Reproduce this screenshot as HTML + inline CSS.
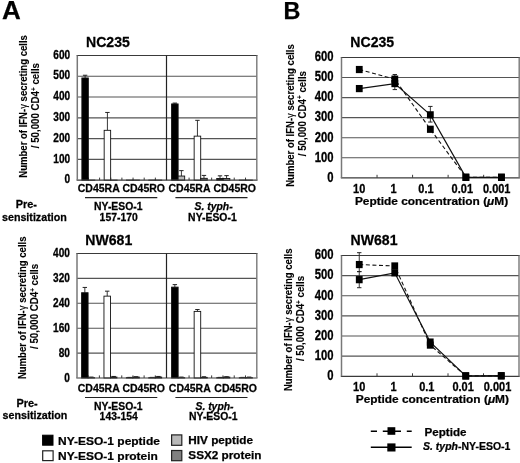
<!DOCTYPE html><html><head><meta charset="utf-8"><style>html,body{margin:0;padding:0;background:#fff;}svg{display:block;filter:grayscale(1)}text{font-family:"Liberation Sans",sans-serif;font-weight:bold;fill:#000;stroke:#000;stroke-width:0.25px}</style></head><body>
<svg width="520" height="463" viewBox="0 0 520 463">
<rect width="520" height="463" fill="#fff"/>
<text transform="translate(2.10,18.80) scale(1.0,1.0)" font-size="26">A</text>
<text transform="translate(283.40,18.50) scale(1.0,1.0)" font-size="23.4">B</text>
<line x1="77.3" y1="159.42" x2="256.8" y2="159.42" stroke="#555555" stroke-width="1.1"/>
<line x1="77.3" y1="138.63" x2="256.8" y2="138.63" stroke="#555555" stroke-width="1.1"/>
<line x1="77.3" y1="117.85" x2="256.8" y2="117.85" stroke="#555555" stroke-width="1.1"/>
<line x1="77.3" y1="97.07" x2="256.8" y2="97.07" stroke="#555555" stroke-width="1.1"/>
<line x1="77.3" y1="76.28" x2="256.8" y2="76.28" stroke="#555555" stroke-width="1.1"/>
<line x1="88.45" y1="177.60" x2="88.45" y2="180.2" stroke="#3a3a3a" stroke-width="1"/>
<line x1="99.60" y1="177.60" x2="99.60" y2="180.2" stroke="#3a3a3a" stroke-width="1"/>
<line x1="110.75" y1="177.60" x2="110.75" y2="180.2" stroke="#3a3a3a" stroke-width="1"/>
<line x1="121.90" y1="177.60" x2="121.90" y2="180.2" stroke="#3a3a3a" stroke-width="1"/>
<line x1="133.05" y1="177.60" x2="133.05" y2="180.2" stroke="#3a3a3a" stroke-width="1"/>
<line x1="144.20" y1="177.60" x2="144.20" y2="180.2" stroke="#3a3a3a" stroke-width="1"/>
<line x1="155.35" y1="177.60" x2="155.35" y2="180.2" stroke="#3a3a3a" stroke-width="1"/>
<line x1="177.79" y1="177.60" x2="177.79" y2="180.2" stroke="#3a3a3a" stroke-width="1"/>
<line x1="189.07" y1="177.60" x2="189.07" y2="180.2" stroke="#3a3a3a" stroke-width="1"/>
<line x1="200.36" y1="177.60" x2="200.36" y2="180.2" stroke="#3a3a3a" stroke-width="1"/>
<line x1="211.65" y1="177.60" x2="211.65" y2="180.2" stroke="#3a3a3a" stroke-width="1"/>
<line x1="222.94" y1="177.60" x2="222.94" y2="180.2" stroke="#3a3a3a" stroke-width="1"/>
<line x1="234.23" y1="177.60" x2="234.23" y2="180.2" stroke="#3a3a3a" stroke-width="1"/>
<line x1="245.51" y1="177.60" x2="245.51" y2="180.2" stroke="#3a3a3a" stroke-width="1"/>
<line x1="85.11" y1="75.24" x2="85.11" y2="77.95" stroke="#222" stroke-width="0.9"/>
<line x1="82.91" y1="75.24" x2="87.31" y2="75.24" stroke="#222" stroke-width="1"/>
<rect x="81.87" y="77.95" width="6.47" height="102.25" fill="#000" stroke="#111" stroke-width="0.9"/>
<rect x="88.34" y="180.10" width="6.47" height="0.10" fill="#b9b9b9" stroke="#111" stroke-width="0.9"/>
<line x1="107.41" y1="112.45" x2="107.41" y2="130.32" stroke="#222" stroke-width="0.9"/>
<line x1="105.20" y1="112.45" x2="109.61" y2="112.45" stroke="#222" stroke-width="1"/>
<rect x="104.17" y="130.32" width="6.47" height="49.88" fill="#fff" stroke="#111" stroke-width="0.9"/>
<rect x="110.64" y="180.10" width="6.47" height="0.10" fill="#808080" stroke="#111" stroke-width="0.9"/>
<rect x="126.47" y="180.10" width="6.47" height="0.10" fill="#000" stroke="#111" stroke-width="0.9"/>
<rect x="132.94" y="180.10" width="6.47" height="0.10" fill="#b9b9b9" stroke="#111" stroke-width="0.9"/>
<rect x="148.77" y="180.10" width="6.47" height="0.10" fill="#fff" stroke="#111" stroke-width="0.9"/>
<rect x="155.24" y="180.10" width="6.47" height="0.10" fill="#808080" stroke="#111" stroke-width="0.9"/>
<line x1="174.85" y1="103.09" x2="174.85" y2="103.93" stroke="#222" stroke-width="0.9"/>
<line x1="172.65" y1="103.09" x2="177.05" y2="103.09" stroke="#222" stroke-width="1"/>
<rect x="171.58" y="103.93" width="6.55" height="76.27" fill="#000" stroke="#111" stroke-width="0.9"/>
<line x1="181.40" y1="170.64" x2="181.40" y2="176.04" stroke="#222" stroke-width="0.9"/>
<line x1="179.20" y1="170.64" x2="183.60" y2="170.64" stroke="#222" stroke-width="1"/>
<rect x="178.13" y="176.04" width="6.55" height="4.16" fill="#b9b9b9" stroke="#111" stroke-width="0.9"/>
<line x1="197.43" y1="120.34" x2="197.43" y2="136.14" stroke="#222" stroke-width="0.9"/>
<line x1="195.23" y1="120.34" x2="199.63" y2="120.34" stroke="#222" stroke-width="1"/>
<rect x="194.15" y="136.14" width="6.55" height="44.06" fill="#fff" stroke="#111" stroke-width="0.9"/>
<line x1="203.97" y1="175.42" x2="203.97" y2="178.33" stroke="#222" stroke-width="0.9"/>
<line x1="201.77" y1="175.42" x2="206.17" y2="175.42" stroke="#222" stroke-width="1"/>
<rect x="200.70" y="178.33" width="6.55" height="1.87" fill="#808080" stroke="#111" stroke-width="0.9"/>
<line x1="220.00" y1="175.84" x2="220.00" y2="178.54" stroke="#222" stroke-width="0.9"/>
<line x1="217.80" y1="175.84" x2="222.20" y2="175.84" stroke="#222" stroke-width="1"/>
<rect x="216.73" y="178.54" width="6.55" height="1.66" fill="#000" stroke="#111" stroke-width="0.9"/>
<line x1="226.55" y1="175.63" x2="226.55" y2="178.54" stroke="#222" stroke-width="0.9"/>
<line x1="224.35" y1="175.63" x2="228.75" y2="175.63" stroke="#222" stroke-width="1"/>
<rect x="223.28" y="178.54" width="6.55" height="1.66" fill="#b9b9b9" stroke="#111" stroke-width="0.9"/>
<rect x="239.30" y="180.10" width="6.55" height="0.10" fill="#fff" stroke="#111" stroke-width="0.9"/>
<rect x="245.85" y="180.10" width="6.55" height="0.10" fill="#808080" stroke="#111" stroke-width="0.9"/>
<line x1="76.6" y1="180.2" x2="257.5" y2="180.2" stroke="#3a3a3a" stroke-width="1.2"/>
<line x1="76.6" y1="55.5" x2="257.5" y2="55.5" stroke="#3a3a3a" stroke-width="1.2"/>
<line x1="77.3" y1="55.5" x2="77.3" y2="180.2" stroke="#787878" stroke-width="1.5"/>
<line x1="256.8" y1="55.5" x2="256.8" y2="180.2" stroke="#787878" stroke-width="1.4"/>
<line x1="166.5" y1="55.5" x2="166.5" y2="180.2" stroke="#222" stroke-width="1.2"/>
<text transform="translate(70.20,183.40) scale(1.0,1.18)" font-size="10.1" text-anchor="end">0</text>
<text transform="translate(70.20,162.62) scale(1.0,1.18)" font-size="10.1" text-anchor="end">100</text>
<text transform="translate(70.20,141.83) scale(1.0,1.18)" font-size="10.1" text-anchor="end">200</text>
<text transform="translate(70.20,121.05) scale(1.0,1.18)" font-size="10.1" text-anchor="end">300</text>
<text transform="translate(70.20,100.27) scale(1.0,1.18)" font-size="10.1" text-anchor="end">400</text>
<text transform="translate(70.20,79.48) scale(1.0,1.18)" font-size="10.1" text-anchor="end">500</text>
<text transform="translate(70.20,58.70) scale(1.0,1.18)" font-size="10.1" text-anchor="end">600</text>
<line x1="77.0" y1="353.10" x2="256.8" y2="353.10" stroke="#555555" stroke-width="1.1"/>
<line x1="77.0" y1="328.20" x2="256.8" y2="328.20" stroke="#555555" stroke-width="1.1"/>
<line x1="77.0" y1="303.30" x2="256.8" y2="303.30" stroke="#555555" stroke-width="1.1"/>
<line x1="77.0" y1="278.40" x2="256.8" y2="278.40" stroke="#555555" stroke-width="1.1"/>
<line x1="88.19" y1="375.40" x2="88.19" y2="378.0" stroke="#3a3a3a" stroke-width="1"/>
<line x1="99.38" y1="375.40" x2="99.38" y2="378.0" stroke="#3a3a3a" stroke-width="1"/>
<line x1="110.56" y1="375.40" x2="110.56" y2="378.0" stroke="#3a3a3a" stroke-width="1"/>
<line x1="121.75" y1="375.40" x2="121.75" y2="378.0" stroke="#3a3a3a" stroke-width="1"/>
<line x1="132.94" y1="375.40" x2="132.94" y2="378.0" stroke="#3a3a3a" stroke-width="1"/>
<line x1="144.12" y1="375.40" x2="144.12" y2="378.0" stroke="#3a3a3a" stroke-width="1"/>
<line x1="155.31" y1="375.40" x2="155.31" y2="378.0" stroke="#3a3a3a" stroke-width="1"/>
<line x1="177.79" y1="375.40" x2="177.79" y2="378.0" stroke="#3a3a3a" stroke-width="1"/>
<line x1="189.07" y1="375.40" x2="189.07" y2="378.0" stroke="#3a3a3a" stroke-width="1"/>
<line x1="200.36" y1="375.40" x2="200.36" y2="378.0" stroke="#3a3a3a" stroke-width="1"/>
<line x1="211.65" y1="375.40" x2="211.65" y2="378.0" stroke="#3a3a3a" stroke-width="1"/>
<line x1="222.94" y1="375.40" x2="222.94" y2="378.0" stroke="#3a3a3a" stroke-width="1"/>
<line x1="234.23" y1="375.40" x2="234.23" y2="378.0" stroke="#3a3a3a" stroke-width="1"/>
<line x1="245.51" y1="375.40" x2="245.51" y2="378.0" stroke="#3a3a3a" stroke-width="1"/>
<line x1="84.83" y1="287.43" x2="84.83" y2="292.72" stroke="#222" stroke-width="0.9"/>
<line x1="82.63" y1="287.43" x2="87.03" y2="287.43" stroke="#222" stroke-width="1"/>
<rect x="81.59" y="292.72" width="6.49" height="85.28" fill="#000" stroke="#111" stroke-width="0.9"/>
<line x1="91.32" y1="377.07" x2="91.32" y2="377.69" stroke="#222" stroke-width="0.9"/>
<line x1="89.12" y1="377.07" x2="93.52" y2="377.07" stroke="#222" stroke-width="1"/>
<rect x="88.08" y="377.69" width="6.49" height="0.31" fill="#b9b9b9" stroke="#111" stroke-width="0.9"/>
<line x1="107.21" y1="291.16" x2="107.21" y2="296.14" stroke="#222" stroke-width="0.9"/>
<line x1="105.01" y1="291.16" x2="109.41" y2="291.16" stroke="#222" stroke-width="1"/>
<rect x="103.96" y="296.14" width="6.49" height="81.86" fill="#fff" stroke="#111" stroke-width="0.9"/>
<line x1="113.70" y1="376.44" x2="113.70" y2="377.07" stroke="#222" stroke-width="0.9"/>
<line x1="111.50" y1="376.44" x2="115.90" y2="376.44" stroke="#222" stroke-width="1"/>
<rect x="110.45" y="377.07" width="6.49" height="0.93" fill="#808080" stroke="#111" stroke-width="0.9"/>
<line x1="129.58" y1="377.38" x2="129.58" y2="377.69" stroke="#222" stroke-width="0.9"/>
<line x1="127.38" y1="377.38" x2="131.78" y2="377.38" stroke="#222" stroke-width="1"/>
<rect x="126.34" y="377.69" width="6.49" height="0.31" fill="#000" stroke="#111" stroke-width="0.9"/>
<line x1="136.07" y1="376.75" x2="136.07" y2="377.07" stroke="#222" stroke-width="0.9"/>
<line x1="133.87" y1="376.75" x2="138.27" y2="376.75" stroke="#222" stroke-width="1"/>
<rect x="132.83" y="377.07" width="6.49" height="0.93" fill="#b9b9b9" stroke="#111" stroke-width="0.9"/>
<line x1="151.96" y1="377.38" x2="151.96" y2="377.69" stroke="#222" stroke-width="0.9"/>
<line x1="149.76" y1="377.38" x2="154.16" y2="377.38" stroke="#222" stroke-width="1"/>
<rect x="148.71" y="377.69" width="6.49" height="0.31" fill="#fff" stroke="#111" stroke-width="0.9"/>
<line x1="158.44" y1="376.44" x2="158.44" y2="377.07" stroke="#222" stroke-width="0.9"/>
<line x1="156.25" y1="376.44" x2="160.64" y2="376.44" stroke="#222" stroke-width="1"/>
<rect x="155.20" y="377.07" width="6.49" height="0.93" fill="#808080" stroke="#111" stroke-width="0.9"/>
<line x1="174.85" y1="284.62" x2="174.85" y2="287.12" stroke="#222" stroke-width="0.9"/>
<line x1="172.65" y1="284.62" x2="177.05" y2="284.62" stroke="#222" stroke-width="1"/>
<rect x="171.58" y="287.12" width="6.55" height="90.88" fill="#000" stroke="#111" stroke-width="0.9"/>
<line x1="181.40" y1="377.07" x2="181.40" y2="377.69" stroke="#222" stroke-width="0.9"/>
<line x1="179.20" y1="377.07" x2="183.60" y2="377.07" stroke="#222" stroke-width="1"/>
<rect x="178.13" y="377.69" width="6.55" height="0.31" fill="#b9b9b9" stroke="#111" stroke-width="0.9"/>
<line x1="197.43" y1="309.52" x2="197.43" y2="311.39" stroke="#222" stroke-width="0.9"/>
<line x1="195.23" y1="309.52" x2="199.63" y2="309.52" stroke="#222" stroke-width="1"/>
<rect x="194.15" y="311.39" width="6.55" height="66.61" fill="#fff" stroke="#111" stroke-width="0.9"/>
<line x1="203.97" y1="376.75" x2="203.97" y2="377.38" stroke="#222" stroke-width="0.9"/>
<line x1="201.77" y1="376.75" x2="206.17" y2="376.75" stroke="#222" stroke-width="1"/>
<rect x="200.70" y="377.38" width="6.55" height="0.62" fill="#808080" stroke="#111" stroke-width="0.9"/>
<line x1="220.00" y1="377.38" x2="220.00" y2="377.69" stroke="#222" stroke-width="0.9"/>
<line x1="217.80" y1="377.38" x2="222.20" y2="377.38" stroke="#222" stroke-width="1"/>
<rect x="216.73" y="377.69" width="6.55" height="0.31" fill="#000" stroke="#111" stroke-width="0.9"/>
<line x1="226.55" y1="376.75" x2="226.55" y2="377.07" stroke="#222" stroke-width="0.9"/>
<line x1="224.35" y1="376.75" x2="228.75" y2="376.75" stroke="#222" stroke-width="1"/>
<rect x="223.28" y="377.07" width="6.55" height="0.93" fill="#b9b9b9" stroke="#111" stroke-width="0.9"/>
<line x1="242.58" y1="377.38" x2="242.58" y2="377.69" stroke="#222" stroke-width="0.9"/>
<line x1="240.38" y1="377.38" x2="244.78" y2="377.38" stroke="#222" stroke-width="1"/>
<rect x="239.30" y="377.69" width="6.55" height="0.31" fill="#fff" stroke="#111" stroke-width="0.9"/>
<line x1="249.12" y1="377.07" x2="249.12" y2="377.69" stroke="#222" stroke-width="0.9"/>
<line x1="246.92" y1="377.07" x2="251.32" y2="377.07" stroke="#222" stroke-width="1"/>
<rect x="245.85" y="377.69" width="6.55" height="0.31" fill="#808080" stroke="#111" stroke-width="0.9"/>
<line x1="76.3" y1="378.0" x2="257.5" y2="378.0" stroke="#3a3a3a" stroke-width="1.2"/>
<line x1="76.3" y1="253.5" x2="257.5" y2="253.5" stroke="#3a3a3a" stroke-width="1.2"/>
<line x1="77.0" y1="253.5" x2="77.0" y2="378.0" stroke="#787878" stroke-width="1.5"/>
<line x1="256.8" y1="253.5" x2="256.8" y2="378.0" stroke="#787878" stroke-width="1.4"/>
<line x1="166.5" y1="253.5" x2="166.5" y2="378.0" stroke="#222" stroke-width="1.2"/>
<text transform="translate(69.90,381.50) scale(1.0,1.18)" font-size="10.1" text-anchor="end">0</text>
<text transform="translate(69.90,356.60) scale(1.0,1.18)" font-size="10.1" text-anchor="end">80</text>
<text transform="translate(69.90,331.70) scale(1.0,1.18)" font-size="10.1" text-anchor="end">160</text>
<text transform="translate(69.90,306.80) scale(1.0,1.18)" font-size="10.1" text-anchor="end">240</text>
<text transform="translate(69.90,281.90) scale(1.0,1.18)" font-size="10.1" text-anchor="end">320</text>
<text transform="translate(69.90,257.00) scale(1.0,1.18)" font-size="10.1" text-anchor="end">400</text>
<text transform="translate(86.00,46.80) scale(1.0,1.06)" font-size="14.1">NC235</text>
<text transform="translate(85.30,244.80) scale(1.0,1.06)" font-size="14.1">NW681</text>
<text transform="translate(350.30,46.80) scale(1.0,1.06)" font-size="14.1">NC235</text>
<text transform="translate(350.50,245.00) scale(1.0,1.06)" font-size="14.1">NW681</text>
<text transform="translate(27.3,106.4) rotate(-90) scale(1,1.06)" text-anchor="middle" font-size="9.55" style="stroke-width:0.12px">Number of IFN-<tspan font-weight="normal">γ</tspan> secreting cells</text>
<text transform="translate(39.2,105.6) rotate(-90) scale(1,1.06)" text-anchor="middle" font-size="9.7" style="stroke-width:0.12px">/ 50,000 CD4<tspan font-size="6.5" dy="-3">+</tspan><tspan dy="3"> cells</tspan></text>
<text transform="translate(26.4,307.8) rotate(-90) scale(1,1.06)" text-anchor="middle" font-size="9.55" style="stroke-width:0.12px">Number of IFN-<tspan font-weight="normal">γ</tspan> secreting cells</text>
<text transform="translate(37.9,306.4) rotate(-90) scale(1,1.06)" text-anchor="middle" font-size="9.7" style="stroke-width:0.12px">/ 50,000 CD4<tspan font-size="6.5" dy="-3">+</tspan><tspan dy="3"> cells</tspan></text>
<text transform="translate(293.7,115.5) rotate(-90) scale(1,1.06)" text-anchor="middle" font-size="9.55" style="stroke-width:0.12px">Number of IFN-<tspan font-weight="normal">γ</tspan> secreting cells</text>
<text transform="translate(305.5,113.6) rotate(-90) scale(1,1.06)" text-anchor="middle" font-size="9.7" style="stroke-width:0.12px">/ 50,000 CD4<tspan font-size="6.5" dy="-3">+</tspan><tspan dy="3"> cells</tspan></text>
<text transform="translate(292.0,319.8) rotate(-90) scale(1,1.06)" text-anchor="middle" font-size="9.55" style="stroke-width:0.12px">Number of IFN-<tspan font-weight="normal">γ</tspan> secreting cells</text>
<text transform="translate(304.1,318.5) rotate(-90) scale(1,1.06)" text-anchor="middle" font-size="9.7" style="stroke-width:0.12px">/ 50,000 CD4<tspan font-size="6.5" dy="-3">+</tspan><tspan dy="3"> cells</tspan></text>
<text transform="translate(98.75,192.00) scale(1.0,1.06)" font-size="10.5" text-anchor="middle">CD45RA</text>
<text transform="translate(143.75,192.00) scale(1.0,1.06)" font-size="10.5" text-anchor="middle">CD45RO</text>
<text transform="translate(189.50,192.00) scale(1.0,1.06)" font-size="10.5" text-anchor="middle">CD45RA</text>
<text transform="translate(234.70,192.00) scale(1.0,1.06)" font-size="10.5" text-anchor="middle">CD45RO</text>
<line x1="85" y1="197.7" x2="157.3" y2="197.7" stroke="#222" stroke-width="1.2"/>
<line x1="175.4" y1="197.7" x2="247.5" y2="197.7" stroke="#222" stroke-width="1.2"/>
<text transform="translate(118.30,210.40) scale(1.0,1.06)" font-size="10.4" text-anchor="middle">NY-ESO-1</text>
<text transform="translate(118.70,220.50) scale(1.0,1.04)" font-size="10.4" text-anchor="middle">157-170</text>
<text transform="translate(213.60,210.40) scale(1.0,1.0)" font-size="10.4" text-anchor="middle" font-style="italic">S. typh-</text>
<text transform="translate(212.40,220.50) scale(1.0,1.04)" font-size="10.4" text-anchor="middle">NY-ESO-1</text>
<text transform="translate(98.75,391.80) scale(1.0,1.06)" font-size="10.5" text-anchor="middle">CD45RA</text>
<text transform="translate(143.75,391.80) scale(1.0,1.06)" font-size="10.5" text-anchor="middle">CD45RO</text>
<text transform="translate(189.77,391.80) scale(1.0,1.06)" font-size="10.5" text-anchor="middle">CD45RA</text>
<text transform="translate(235.60,391.80) scale(1.0,1.06)" font-size="10.5" text-anchor="middle">CD45RO</text>
<line x1="85" y1="397.5" x2="157.3" y2="397.5" stroke="#222" stroke-width="1.2"/>
<line x1="175.4" y1="397.5" x2="247.5" y2="397.5" stroke="#222" stroke-width="1.2"/>
<text transform="translate(118.30,409.60) scale(1.0,1.06)" font-size="10.4" text-anchor="middle">NY-ESO-1</text>
<text transform="translate(118.70,419.90) scale(1.0,1.04)" font-size="10.4" text-anchor="middle">143-154</text>
<text transform="translate(214.50,409.60) scale(1.0,1.0)" font-size="10.4" text-anchor="middle" font-style="italic">S. typh-</text>
<text transform="translate(213.30,419.90) scale(1.0,1.04)" font-size="10.4" text-anchor="middle">NY-ESO-1</text>
<text transform="translate(15.70,207.70) scale(1.0,1.06)" font-size="10.9">Pre-</text>
<text transform="translate(2.00,220.60) scale(1.0,1.06)" font-size="10.7">sensitization</text>
<text transform="translate(16.50,406.50) scale(1.0,1.06)" font-size="10.9">Pre-</text>
<text transform="translate(2.60,419.10) scale(1.0,1.06)" font-size="10.7">sensitization</text>
<rect x="42.6" y="435.2" width="10.4" height="10" fill="#000" stroke="#000" stroke-width="1"/>
<rect x="42.7" y="450.8" width="10.4" height="9.8" fill="#fff" stroke="#222" stroke-width="1.2"/>
<rect x="171.6" y="434.9" width="10.2" height="10.4" fill="#b9b9b9" stroke="#222" stroke-width="1.2"/>
<rect x="171.6" y="450.5" width="10.2" height="10.2" fill="#808080" stroke="#222" stroke-width="1.2"/>
<text transform="translate(58.00,445.00) scale(1.0,0.97)" font-size="12.0">NY-ESO-1 peptide</text>
<text transform="translate(58.00,460.40) scale(1.0,0.97)" font-size="12.0">NY-ESO-1 protein</text>
<text transform="translate(188.30,443.70) scale(1.0,1.0)" font-size="11.75">HIV peptide</text>
<text transform="translate(188.30,459.00) scale(1.0,1.0)" font-size="11.75">SSX2 protein</text>
<line x1="341.5" y1="157.75" x2="519.2" y2="157.75" stroke="#555555" stroke-width="1.1"/>
<line x1="341.5" y1="137.70" x2="519.2" y2="137.70" stroke="#555555" stroke-width="1.1"/>
<line x1="341.5" y1="117.65" x2="519.2" y2="117.65" stroke="#555555" stroke-width="1.1"/>
<line x1="341.5" y1="97.60" x2="519.2" y2="97.60" stroke="#555555" stroke-width="1.1"/>
<line x1="341.5" y1="77.55" x2="519.2" y2="77.55" stroke="#555555" stroke-width="1.1"/>
<line x1="377.04" y1="174.80" x2="377.04" y2="177.8" stroke="#3a3a3a" stroke-width="1"/>
<line x1="412.58" y1="174.80" x2="412.58" y2="177.8" stroke="#3a3a3a" stroke-width="1"/>
<line x1="448.12" y1="174.80" x2="448.12" y2="177.8" stroke="#3a3a3a" stroke-width="1"/>
<line x1="483.66" y1="174.80" x2="483.66" y2="177.8" stroke="#3a3a3a" stroke-width="1"/>
<line x1="340.8" y1="177.8" x2="519.9000000000001" y2="177.8" stroke="#3a3a3a" stroke-width="1.2"/>
<line x1="340.8" y1="57.5" x2="519.9000000000001" y2="57.5" stroke="#3a3a3a" stroke-width="1.2"/>
<line x1="341.5" y1="57.5" x2="341.5" y2="177.8" stroke="#787878" stroke-width="1.5"/>
<line x1="519.2" y1="57.5" x2="519.2" y2="177.8" stroke="#787878" stroke-width="1.4"/>
<line x1="394.81" y1="74.54" x2="394.81" y2="81.56" stroke="#222" stroke-width="0.9"/>
<line x1="392.61" y1="74.54" x2="397.01" y2="74.54" stroke="#222" stroke-width="1"/>
<line x1="392.61" y1="81.56" x2="397.01" y2="81.56" stroke="#222" stroke-width="1"/>
<line x1="394.81" y1="81.56" x2="394.81" y2="89.58" stroke="#222" stroke-width="0.9"/>
<line x1="392.61" y1="81.56" x2="397.01" y2="81.56" stroke="#222" stroke-width="1"/>
<line x1="392.61" y1="89.58" x2="397.01" y2="89.58" stroke="#222" stroke-width="1"/>
<line x1="430.35" y1="106.42" x2="430.35" y2="122.06" stroke="#222" stroke-width="0.9"/>
<line x1="428.15" y1="106.42" x2="432.55" y2="106.42" stroke="#222" stroke-width="1"/>
<line x1="428.15" y1="122.06" x2="432.55" y2="122.06" stroke="#222" stroke-width="1"/>
<polyline points="359.27,69.53 394.81,79.15 430.35,129.28 465.89,177.30 501.43,177.30" fill="none" stroke="#111" stroke-width="1.1" stroke-dasharray="4 2.6"/>
<polyline points="359.27,88.58 394.81,83.57 430.35,114.84 465.89,177.30 501.43,177.30" fill="none" stroke="#111" stroke-width="1.2"/>
<rect x="355.87" y="65.93" width="6.8" height="7.2" fill="#000"/>
<rect x="391.41" y="75.55" width="6.8" height="7.2" fill="#000"/>
<rect x="426.95" y="125.68" width="6.8" height="7.2" fill="#000"/>
<rect x="462.49" y="173.70" width="6.8" height="7.2" fill="#000"/>
<rect x="498.03" y="173.70" width="6.8" height="7.2" fill="#000"/>
<rect x="355.87" y="84.98" width="6.8" height="7.2" fill="#000"/>
<rect x="391.41" y="79.97" width="6.8" height="7.2" fill="#000"/>
<rect x="426.95" y="111.24" width="6.8" height="7.2" fill="#000"/>
<rect x="462.49" y="173.70" width="6.8" height="7.2" fill="#000"/>
<rect x="498.03" y="173.70" width="6.8" height="7.2" fill="#000"/>
<text transform="translate(333.60,181.60) scale(1.0,1.26)" font-size="11.3" text-anchor="end">0</text>
<text transform="translate(333.60,161.55) scale(1.0,1.26)" font-size="11.3" text-anchor="end">100</text>
<text transform="translate(333.60,141.50) scale(1.0,1.26)" font-size="11.3" text-anchor="end">200</text>
<text transform="translate(333.60,121.45) scale(1.0,1.26)" font-size="11.3" text-anchor="end">300</text>
<text transform="translate(333.60,101.40) scale(1.0,1.26)" font-size="11.3" text-anchor="end">400</text>
<text transform="translate(333.60,81.35) scale(1.0,1.26)" font-size="11.3" text-anchor="end">500</text>
<text transform="translate(333.60,61.30) scale(1.0,1.26)" font-size="11.3" text-anchor="end">600</text>
<text transform="translate(359.20,192.80) scale(1.0,1.12)" font-size="11" text-anchor="middle">10</text>
<text transform="translate(393.60,192.80) scale(1.0,1.12)" font-size="11" text-anchor="middle">1</text>
<text transform="translate(426.00,192.80) scale(1.0,1.12)" font-size="11" text-anchor="middle">0.1</text>
<text transform="translate(462.30,192.80) scale(1.0,1.12)" font-size="11" text-anchor="middle">0.01</text>
<text transform="translate(496.70,192.80) scale(1.0,1.12)" font-size="11" text-anchor="middle">0.001</text>
<text transform="translate(354.90,204.70) scale(1.0,0.97)" font-size="11.9">Peptide concentration (<tspan font-style="italic">μ</tspan>M)</text>
<line x1="341.5" y1="356.17" x2="519.0" y2="356.17" stroke="#555555" stroke-width="1.1"/>
<line x1="341.5" y1="336.03" x2="519.0" y2="336.03" stroke="#555555" stroke-width="1.1"/>
<line x1="341.5" y1="315.90" x2="519.0" y2="315.90" stroke="#555555" stroke-width="1.1"/>
<line x1="341.5" y1="295.77" x2="519.0" y2="295.77" stroke="#555555" stroke-width="1.1"/>
<line x1="341.5" y1="275.63" x2="519.0" y2="275.63" stroke="#555555" stroke-width="1.1"/>
<line x1="377.00" y1="373.30" x2="377.00" y2="376.3" stroke="#3a3a3a" stroke-width="1"/>
<line x1="412.50" y1="373.30" x2="412.50" y2="376.3" stroke="#3a3a3a" stroke-width="1"/>
<line x1="448.00" y1="373.30" x2="448.00" y2="376.3" stroke="#3a3a3a" stroke-width="1"/>
<line x1="483.50" y1="373.30" x2="483.50" y2="376.3" stroke="#3a3a3a" stroke-width="1"/>
<line x1="340.8" y1="376.3" x2="519.7" y2="376.3" stroke="#3a3a3a" stroke-width="1.2"/>
<line x1="340.8" y1="255.5" x2="519.7" y2="255.5" stroke="#3a3a3a" stroke-width="1.2"/>
<line x1="341.5" y1="255.5" x2="341.5" y2="376.3" stroke="#787878" stroke-width="1.5"/>
<line x1="519.0" y1="255.5" x2="519.0" y2="376.3" stroke="#787878" stroke-width="1.4"/>
<line x1="359.25" y1="252.68" x2="359.25" y2="271.61" stroke="#222" stroke-width="0.9"/>
<line x1="357.05" y1="252.68" x2="361.45" y2="252.68" stroke="#222" stroke-width="1"/>
<line x1="357.05" y1="271.61" x2="361.45" y2="271.61" stroke="#222" stroke-width="1"/>
<line x1="359.25" y1="271.61" x2="359.25" y2="287.71" stroke="#222" stroke-width="0.9"/>
<line x1="357.05" y1="271.61" x2="361.45" y2="271.61" stroke="#222" stroke-width="1"/>
<line x1="357.05" y1="287.71" x2="361.45" y2="287.71" stroke="#222" stroke-width="1"/>
<polyline points="359.25,264.56 394.75,265.97 430.25,345.09 465.75,375.90 501.25,375.90" fill="none" stroke="#111" stroke-width="1.1" stroke-dasharray="4 2.6"/>
<polyline points="359.25,279.66 394.75,272.81 430.25,342.07 465.75,375.90 501.25,375.70" fill="none" stroke="#111" stroke-width="1.2"/>
<rect x="355.85" y="260.96" width="6.8" height="7.2" fill="#000"/>
<rect x="391.35" y="262.37" width="6.8" height="7.2" fill="#000"/>
<rect x="426.85" y="341.49" width="6.8" height="7.2" fill="#000"/>
<rect x="462.35" y="372.30" width="6.8" height="7.2" fill="#000"/>
<rect x="497.85" y="372.30" width="6.8" height="7.2" fill="#000"/>
<rect x="355.85" y="276.06" width="6.8" height="7.2" fill="#000"/>
<rect x="391.35" y="269.21" width="6.8" height="7.2" fill="#000"/>
<rect x="426.85" y="338.47" width="6.8" height="7.2" fill="#000"/>
<rect x="462.35" y="372.30" width="6.8" height="7.2" fill="#000"/>
<rect x="497.85" y="372.10" width="6.8" height="7.2" fill="#000"/>
<text transform="translate(333.60,380.10) scale(1.0,1.26)" font-size="11.3" text-anchor="end">0</text>
<text transform="translate(333.60,359.97) scale(1.0,1.26)" font-size="11.3" text-anchor="end">100</text>
<text transform="translate(333.60,339.83) scale(1.0,1.26)" font-size="11.3" text-anchor="end">200</text>
<text transform="translate(333.60,319.70) scale(1.0,1.26)" font-size="11.3" text-anchor="end">300</text>
<text transform="translate(333.60,299.57) scale(1.0,1.26)" font-size="11.3" text-anchor="end">400</text>
<text transform="translate(333.60,279.43) scale(1.0,1.26)" font-size="11.3" text-anchor="end">500</text>
<text transform="translate(333.60,259.30) scale(1.0,1.26)" font-size="11.3" text-anchor="end">600</text>
<text transform="translate(359.20,391.30) scale(1.0,1.12)" font-size="11" text-anchor="middle">10</text>
<text transform="translate(393.60,391.30) scale(1.0,1.12)" font-size="11" text-anchor="middle">1</text>
<text transform="translate(426.80,391.30) scale(1.0,1.12)" font-size="11" text-anchor="middle">0.1</text>
<text transform="translate(463.10,391.30) scale(1.0,1.12)" font-size="11" text-anchor="middle">0.01</text>
<text transform="translate(497.50,391.30) scale(1.0,1.12)" font-size="11" text-anchor="middle">0.001</text>
<text transform="translate(355.70,403.20) scale(1.0,0.97)" font-size="11.9">Peptide concentration (<tspan font-style="italic">μ</tspan>M)</text>
<line x1="370.8" y1="431.3" x2="411.7" y2="431.3" stroke="#000" stroke-width="1.4" stroke-dasharray="6.2 5.8"/>
<rect x="387.5" y="427.2" width="7.8" height="7.6" fill="#000"/>
<line x1="370.8" y1="447.2" x2="411.7" y2="447.2" stroke="#000" stroke-width="1.4"/>
<rect x="387.3" y="443.4" width="8.2" height="8.1" fill="#000"/>
<text transform="translate(424.60,435.80) scale(1.0,1.0)" font-size="11.6">Peptide</text>
<text transform="translate(423.00,450.40) scale(1.0,0.98)" font-size="10.5"><tspan font-style="italic">S. typh</tspan>-NY-ESO-1</text>
</svg></body></html>
